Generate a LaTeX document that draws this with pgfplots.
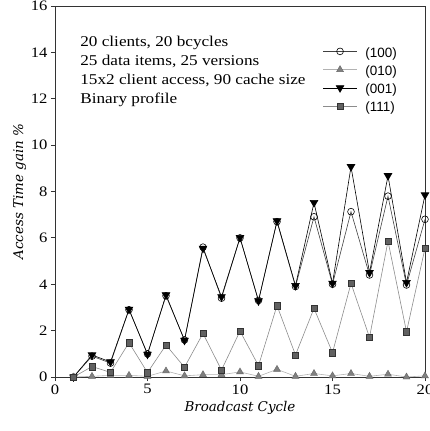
\documentclass[border=0pt]{standalone}
\usepackage{pgfplots}
\pgfplotsset{compat=1.18}
\usepackage{fontspec}
\setmainfont{Liberation Serif}
\newfontfamily\wideserif[FakeStretch=1.15]{Liberation Serif}
\newfontfamily\arial{Liberation Sans}
\newfontfamily\labelfont{DejaVu Serif}

\definecolor{lineA}{gray}{0.25}
\definecolor{lineB}{gray}{0.70}
\definecolor{markB}{gray}{0.50}
\definecolor{lineD}{gray}{0.55}
\definecolor{markD}{gray}{0.38}

\begin{document}
\begin{tikzpicture}
\begin{axis}[
  name=ax,
  scale only axis,
  width=370bp, height=371bp,
  xmin=0, xmax=20, ymin=0, ymax=16,
  xtick={0,5,10,15,20},
  ytick={0,2,...,16},
  tick align=outside,
  xtick pos=left, ytick pos=left,
  major tick length=4bp,
  axis line style={black!80, line width=0.8pt},
  tick style={black!80, line width=0.8pt},
  /pgf/number format/assume math mode=true,
  tick label style={font=\fontsize{14.5}{17}\wideserif},
  xlabel={Broadcast Cycle},
  ylabel={Access Time gain \%},
  label style={font=\fontsize{13.5}{15}\labelfont\itshape},
  ylabel style={yshift=-2bp},
  legend cell align=left,
  legend style={draw=none, fill=none, at={(0.715,0.9)}, anchor=north west,
    font=\fontsize{13.5}{15}\arial, row sep=3bp,
    /tikz/every odd column/.append style={column sep=6bp}},
  legend image code/.code={
    \draw[#1, yshift=1.5bp, mark repeat=2, mark phase=2]
      plot coordinates {(0cm,0cm) (0.6cm,0cm) (1.2cm,0cm)};
  },
]
% (100)
\addplot[lineA, line width=0.6pt, mark=o, mark size=3.4bp,
  mark options={fill=white, draw=black, line width=0.6pt}]
  coordinates {(1,0) (2,0.9) (3,0.6) (4,2.9) (5,1.0) (6,3.5) (7,1.6) (8,5.6)
    (9,3.4) (10,6.0) (11,3.3) (12,6.7) (13,3.9) (14,6.91) (15,4.0) (16,7.13)
    (17,4.4) (18,7.8) (19,3.97) (20,6.8)};
\addlegendentry{(100)}
% (010)
\addplot[lineB, line width=0.6pt, mark=triangle*, mark size=4bp,
  mark options={fill=markB, draw=black!60, line width=0.4pt}]
  coordinates {(1,0) (2,0.03) (3,0.07) (4,0.07) (5,0.03) (6,0.26) (7,0.05)
    (8,0.1) (9,0.1) (10,0.22) (11,0.03) (12,0.33) (13,0.03) (14,0.15) (15,0.05)
    (16,0.15) (17,0.03) (18,0.12) (19,0.0) (20,0.05)};
\addlegendentry{(010)}
% (001)
\addplot[black, line width=0.6pt, mark=triangle*, mark size=4.4bp,
  mark options={rotate=180, fill=black, draw=black}]
  coordinates {(1,0) (2,0.95) (3,0.65) (4,2.92) (5,0.98) (6,3.54) (7,1.58)
    (8,5.55) (9,3.46) (10,6.01) (11,3.28) (12,6.73) (13,3.94) (14,7.52) (15,4.04)
    (16,9.07) (17,4.5) (18,8.68) (19,4.07) (20,7.85)};
\addlegendentry{(001)}
% (111)
\addplot[lineD, line width=0.6pt, mark=square*, mark size=3.2bp,
  mark options={fill=markD, draw=black!80, line width=0.5pt}]
  coordinates {(1,0) (2,0.45) (3,0.2) (4,1.48) (5,0.19) (6,1.38) (7,0.42)
    (8,1.88) (9,0.3) (10,1.98) (11,0.49) (12,3.08) (13,0.95) (14,2.96) (15,1.05)
    (16,4.04) (17,1.71) (18,5.86) (19,1.95) (20,5.55)};
\addlegendentry{(111)}

\node[anchor=north west, align=left, font=\fontsize{15}{19}\wideserif,
  inner sep=0pt] at (rel axis cs:0.068,0.918)
  {20 clients, 20 bcycles\\25 data items, 25 versions\\15x2 client access, 90 cache size\\Binary profile};
\end{axis}
\pgfresetboundingbox
\path[use as bounding box] ([xshift=-55bp,yshift=-54bp]ax.south west)
  rectangle ([xshift=5bp,yshift=6bp]ax.north east);
\end{tikzpicture}
\end{document}
